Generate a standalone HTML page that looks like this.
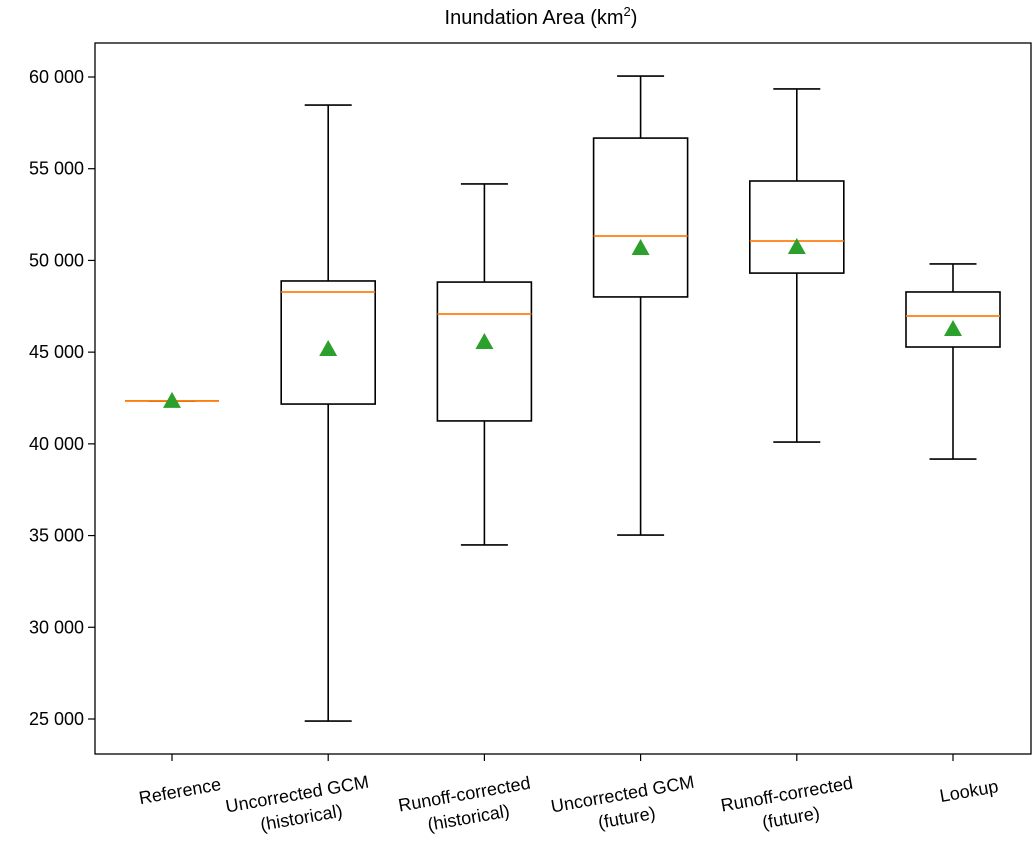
<!DOCTYPE html>
<html><head><meta charset="utf-8">
<style>
html,body{margin:0;padding:0;background:#fff;}
svg{display:block;font-family:"Liberation Sans",sans-serif;}
</style></head>
<body>
<svg id="chart" width="1035" height="856" viewBox="0 0 1035 856">
<text x="541" y="24" font-size="20" text-anchor="middle">Inundation Area (km<tspan font-size="13" dy="-8">2</tspan><tspan dy="8">)</tspan></text>
<g id="marks"></g>
<rect x="95" y="43" width="936" height="711" fill="none" stroke="#000" stroke-width="1.3"/>
</svg>
<script>
const categories = [["Reference"],["Uncorrected GCM","(historical)"],["Runoff-corrected","(historical)"],["Uncorrected GCM","(future)"],["Runoff-corrected","(future)"],["Lookup"]];
const whiskerLow = [42340, 24890, 34490, 35030, 40100, 39170];
const q1 = [42340, 42170, 41250, 48010, 49310, 45280];
const medians = [42340, 48280, 47080, 51330, 51060, 46970];
const q3 = [42340, 48880, 48820, 56670, 54330, 48280];
const whiskerHigh = [42340, 58470, 54170, 60050, 59350, 49810];
const means = [42340, 45170, 45550, 50680, 50730, 46260];
const yTicks = [25000, 30000, 35000, 40000, 45000, 50000, 55000, 60000];
const yTickLabels = ["25 000","30 000","35 000","40 000","45 000","50 000","55 000","60 000"];

const labelShift = [9, -30, -19, -17, -9, 17];
const NS = "http://www.w3.org/2000/svg";
const g = document.getElementById("marks");
const y = v => 77 + (60000 - v) * (642 / 35000);
const x = i => 172 + i * 156.2;
function mk(tag, attrs){const e=document.createElementNS(NS,tag);for(const k in attrs)e.setAttribute(k,attrs[k]);g.appendChild(e);return e;}

yTicks.forEach((t,i)=>{
  const l=mk("line",{x1:88,x2:95,y1:y(t),y2:y(t),stroke:"#000","stroke-width":1.2});
  
  
  const tx=mk("text",{x:84,y:y(t)+6,"font-size":18,"text-anchor":"end"});
  tx.textContent=yTickLabels[i];
  
  
});

categories.forEach((c,i)=>{
  const cx=x(i);
  const tk=mk("line",{x1:cx,x2:cx,y1:754,y2:761,stroke:"#000","stroke-width":1.2});
  
  
  const lab=mk("text",{"font-size":18,"text-anchor":"middle",transform:`translate(${cx+labelShift[i]},${c.length>1?800:797}) rotate(-10)`});
  
  
  c.forEach((s,j)=>{const ts=document.createElementNS(NS,"tspan");ts.setAttribute("x",0);ts.setAttribute("y",j*24);ts.textContent=s;lab.appendChild(ts);});

  const st={stroke:"#000","stroke-width":1.6,fill:"none"};
  const w1=mk("line",Object.assign({x1:cx,x2:cx,y1:y(q3[i]),y2:y(whiskerHigh[i])},st));
  
  
  const w2=mk("line",Object.assign({x1:cx,x2:cx,y1:y(q1[i]),y2:y(whiskerLow[i])},st));
  
  
  const c1=mk("line",Object.assign({x1:cx-23.5,x2:cx+23.5,y1:y(whiskerHigh[i]),y2:y(whiskerHigh[i])},st));
  
  
  const c2=mk("line",Object.assign({x1:cx-23.5,x2:cx+23.5,y1:y(whiskerLow[i]),y2:y(whiskerLow[i])},st));
  
  
  const b=mk("rect",Object.assign({x:cx-47,y:y(q3[i]),width:94,height:Math.max(0,y(q1[i])-y(q3[i]))},st));
  
  
  const m=mk("line",{x1:cx-47,x2:cx+47,y1:y(medians[i]),y2:y(medians[i]),stroke:"#ff7f0e","stroke-width":1.8});
  
  
  const my=y(means[i]);
  const tri=mk("polygon",{points:`${cx},${my-9} ${cx-9},${my+7} ${cx+9},${my+7}`,fill:"#2ca02c"});
  
  
});
</script>
</body></html>
